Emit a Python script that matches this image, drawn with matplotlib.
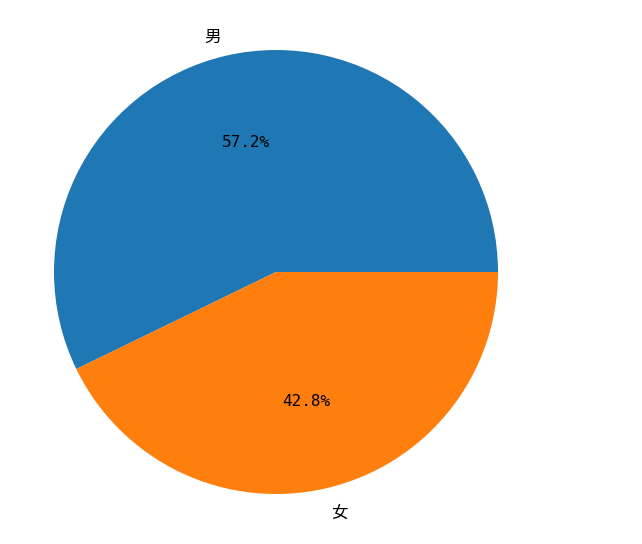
import matplotlib
matplotlib.use("Agg")
import matplotlib.pyplot as plt

plt.rcParams['font.family'] = ['Noto Sans CJK SC', 'DejaVu Sans']

labels = ['男', '女']
values = [57.2, 42.8]

fig = plt.figure(figsize=(6.42, 5.44), dpi=100)
ax = fig.add_axes([-1.5/642, -5.5/544, 555/642, 555/544])
wedges, texts, autotexts = ax.pie(values, labels=labels, autopct='%1.1f%%',
                                  textprops={'fontsize': 12})
for t in texts:
    x, y = t.get_position()
    t.set_position((x, y - 0.015))
for t in autotexts:
    t.set_fontfamily(['DejaVu Sans Mono'])
    t.set_fontsize(11.5)
fig.savefig('out.png', dpi=100)
